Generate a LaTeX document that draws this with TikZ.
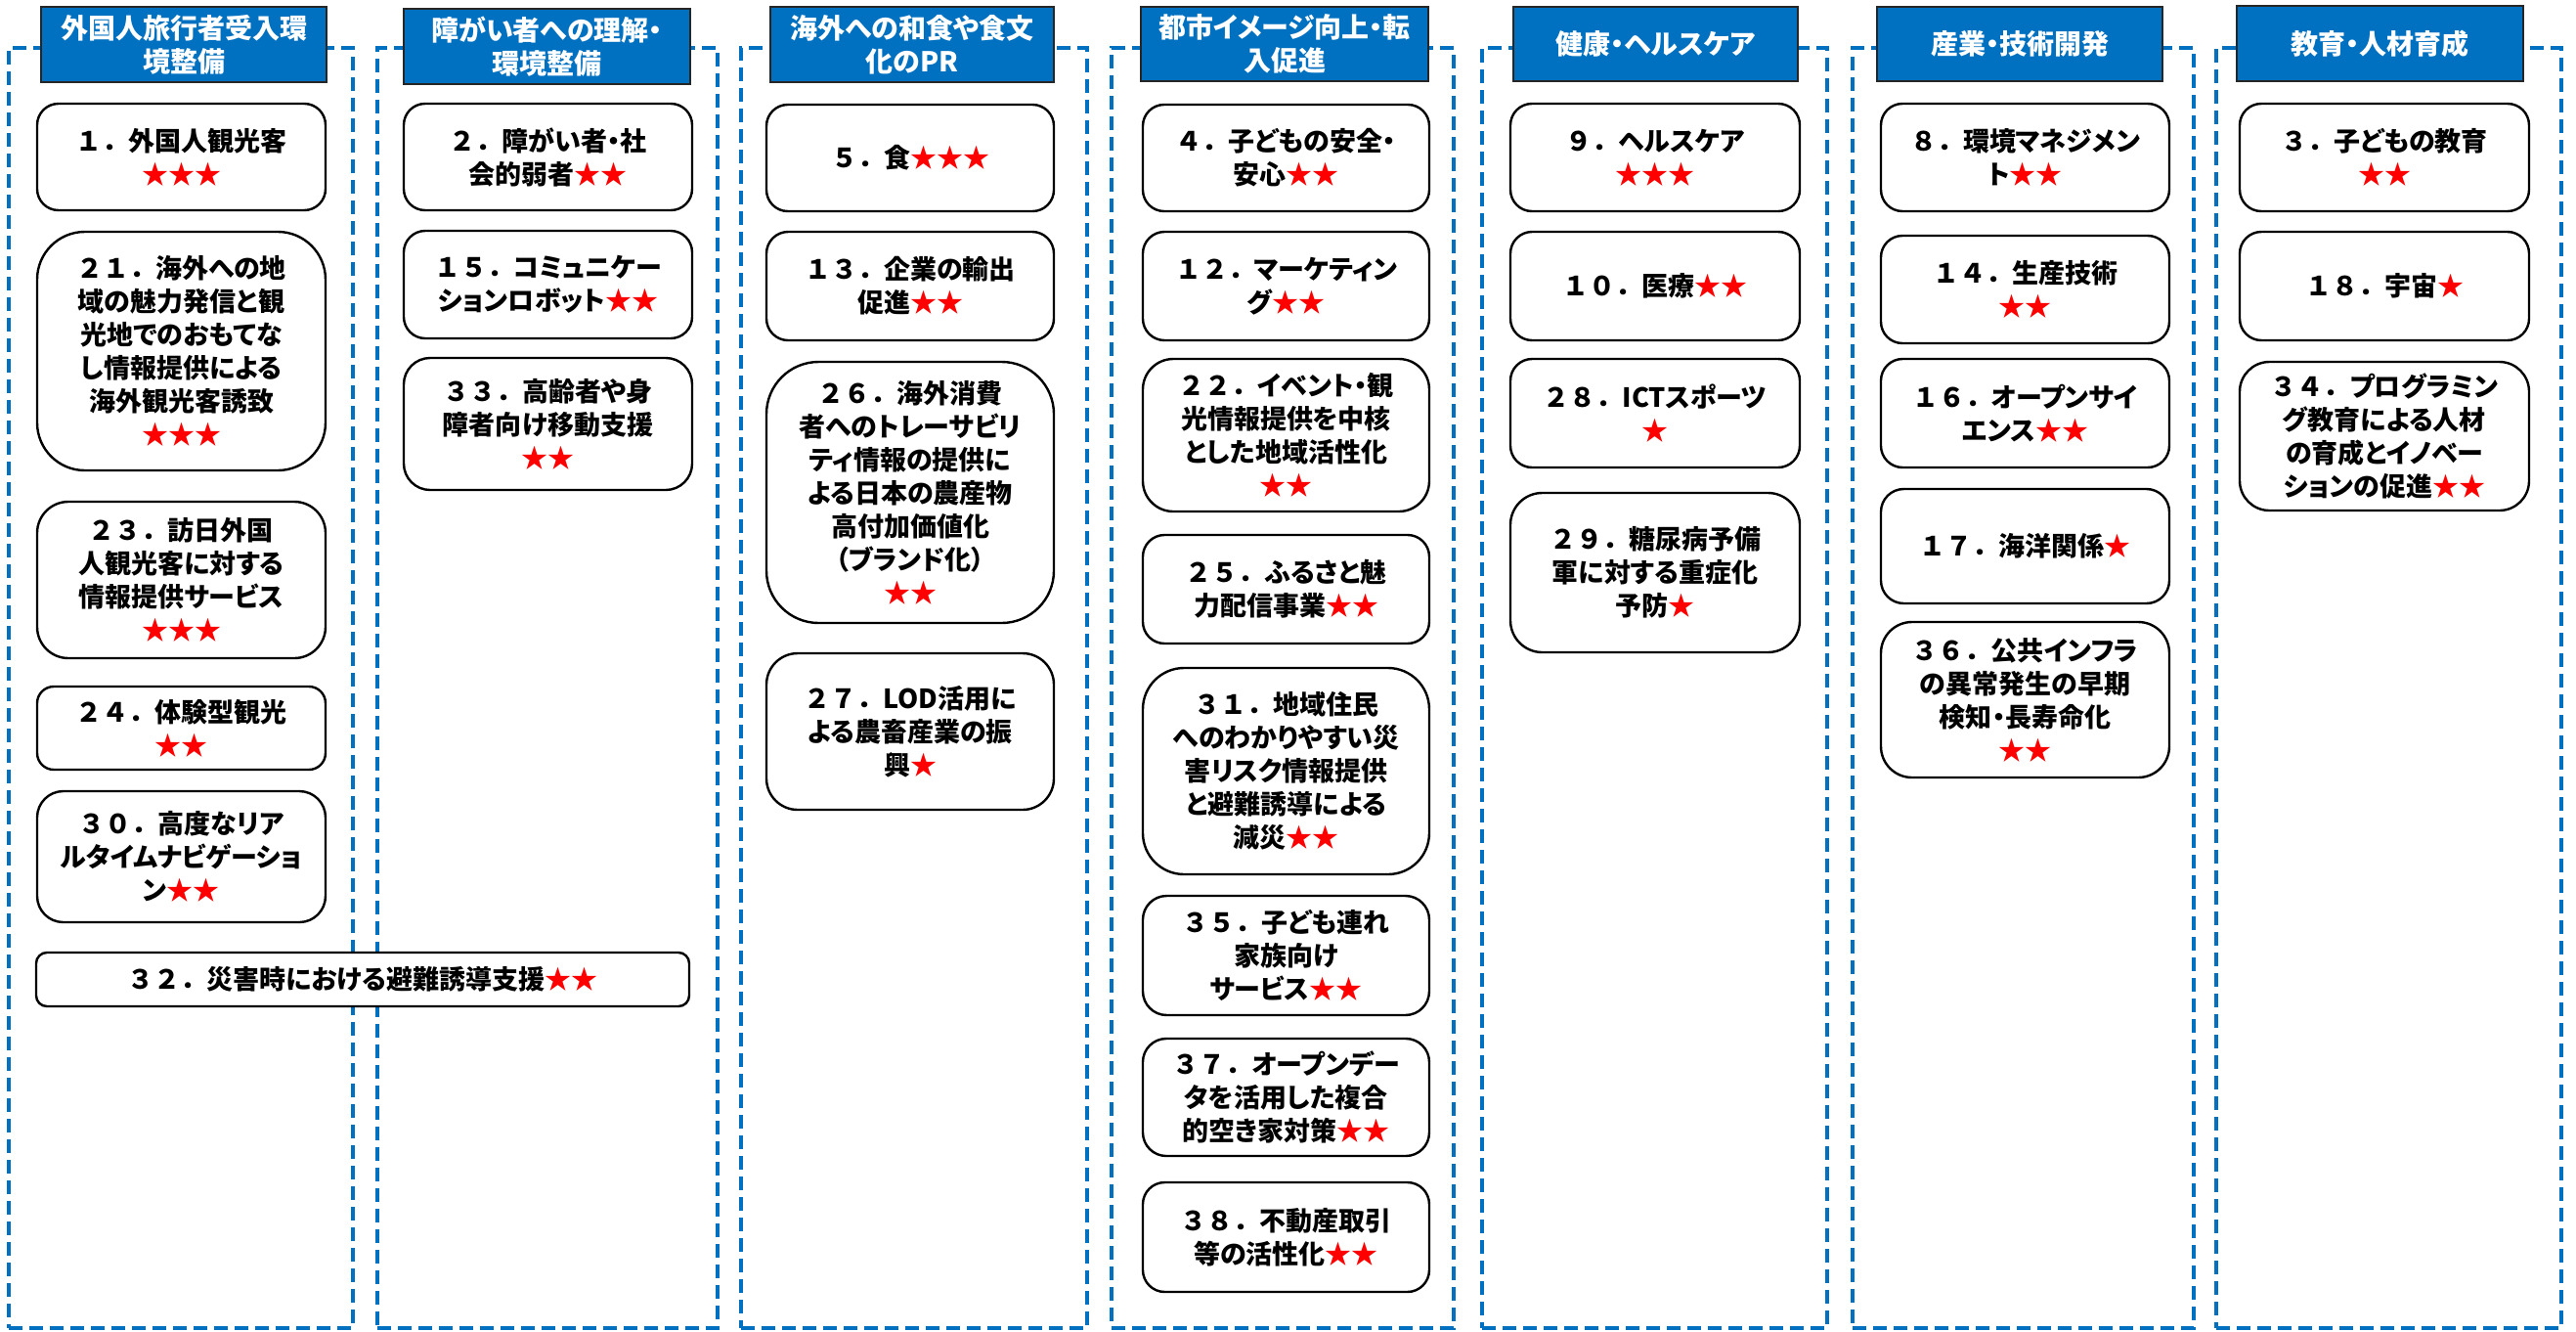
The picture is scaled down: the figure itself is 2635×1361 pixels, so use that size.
\documentclass[tikz,border=0pt]{standalone}
\usepackage{fontspec}
\setmainfont{Noto Sans CJK JP}[RawFeature=+palt]
\newfontfamily\plainjp{Noto Sans CJK JP}
\definecolor{hdrblue}{RGB}{0,112,192}
\definecolor{starred}{RGB}{255,0,0}
\newcommand{\RS}[1]{{\color{starred}#1}}
\newcommand{\NN}[1]{{\plainjp\bfseries #1}}
\tikzset{
  itembox/.style={draw=black, line width=1.2pt, fill=white, inner sep=0pt, align=center,
    font=\fontsize{13.5}{17}\selectfont\bfseries},
  hdrbox/.style={draw=black!85, line width=1pt, fill=hdrblue, text=white, inner sep=0pt, align=center,
    font=\fontsize{14}{17}\selectfont\bfseries},
  colframe/.style={draw=hdrblue, line width=2pt, dash pattern=on 7pt off 3.5pt, inner sep=0pt},
}
% name, x1, y1, x2, y2, text  (pixel coordinates)
\newcommand{\mkitem}[6]{%
  \pgfmathsetmacro{\bw}{(#4-#2)*0.5}%
  \pgfmathsetmacro{\bh}{(#5-#3)*0.5}%
  \pgfmathsetmacro{\br}{0.2*min(\bw,\bh)}%
  \node[itembox, minimum width=\bw pt, minimum height=\bh pt, rounded corners=\br pt]
    (#1) at ({(#2+#4)/2},{(#3+#5)/2}) {#6};}
\newcommand{\mkhdr}[6]{%
  \pgfmathsetmacro{\bw}{(#4-#2)*0.5}%
  \pgfmathsetmacro{\bh}{(#5-#3)*0.5}%
  \node[hdrbox, minimum width=\bw pt, minimum height=\bh pt]
    (#1) at ({(#2+#4)/2},{(#3+#5)/2}) {#6};}
\newcommand{\mkframe}[5]{%
  \pgfmathsetmacro{\bw}{(#4-#2)*0.5}%
  \pgfmathsetmacro{\bh}{(#5-#3)*0.5}%
  \node[colframe, minimum width=\bw pt, minimum height=\bh pt]
    (#1) at ({(#2+#4)/2},{(#3+#5)/2}) {};}
\begin{document}
\begin{tikzpicture}[x=0.5pt,y=-0.5pt]
\useasboundingbox (0,0) rectangle (2635,1361);
% column frames
\mkframe{f1}{9}{49}{361}{1358}
\mkframe{f2}{386}{49}{734}{1358}
\mkframe{f3}{758}{49}{1112}{1358}
\mkframe{f4}{1137}{49}{1487}{1358}
\mkframe{f5}{1516}{49}{1869}{1358}
\mkframe{f6}{1895}{49}{2244}{1358}
\mkframe{f7}{2267}{49}{2620}{1358}
% headers
\mkhdr{h1}{42}{7}{334}{84}{外国人旅行者受入環\\境整備}
\mkhdr{h2}{413}{9}{706}{86}{障がい者への理解・\\環境整備}
\mkhdr{h3}{788}{7}{1078}{84}{海外への和食や食文\\化のPR}
\mkhdr{h4}{1167}{7}{1461}{83}{都市イメージ向上・転\\入促進}
\mkhdr{h5}{1548}{7}{1839}{83}{健康・ヘルスケア}
\mkhdr{h6}{1920}{7}{2212}{83}{産業・技術開発}
\mkhdr{h7}{2288}{6}{2581}{83}{教育・人材育成}
% column 1
\mkitem{b1}{38}{106}{333}{215}{\NN{１．}外国人観光客\\\RS{★★★}}
\mkitem{b21}{38}{237}{333}{481}{\NN{２１．}海外への地\\域の魅力発信と観\\光地でのおもてな\\し情報提供による\\海外観光客誘致\\\RS{★★★}}
\mkitem{b23}{38}{513}{333}{673}{\NN{２３．}訪日外国\\人観光客に対する\\情報提供サービス\\\RS{★★★}}
\mkitem{b24}{38}{702}{333}{787}{\NN{２４．}体験型観光\\\RS{★★}}
\mkitem{b30}{38}{809}{333}{943}{\NN{３０．}高度なリア\\ルタイムナビゲーショ\\ン\RS{★★}}
\mkitem{b32}{37}{974}{705}{1029}{\NN{３２．}災害時における避難誘導支援\RS{★★}}
% column 2
\mkitem{b2}{413}{106}{708}{215}{\NN{２．}障がい者・社\\会的弱者\RS{★★}}
\mkitem{b15}{413}{236}{708}{346}{\NN{１５．}コミュニケー\\ションロボット\RS{★★}}
\mkitem{b33}{413}{366}{708}{501}{\NN{３３．}高齢者や身\\障者向け移動支援\\\RS{★★}}
% column 3
\mkitem{b5}{784}{107}{1078}{216}{\NN{５．}食\RS{★★★}}
\mkitem{b13}{784}{237}{1078}{348}{\NN{１３．}企業の輸出\\促進\RS{★★}}
\mkitem{b26}{784}{370}{1078}{637}{\NN{２６．}海外消費\\者へのトレーサビリ\\ティ情報の提供に\\よる日本の農産物\\高付加価値化\\（ブランド化）\\\RS{★★}}
\mkitem{b27}{784}{668}{1078}{828}{\NN{２７．}LOD活用に\\よる農畜産業の振\\興\RS{★}}
% column 4
\mkitem{b4}{1169}{107}{1462}{216}{\NN{４．}子どもの安全・\\安心\RS{★★}}
\mkitem{b12}{1169}{237}{1462}{348}{\NN{１２．}マーケティン\\グ\RS{★★}}
\mkitem{b22}{1169}{367}{1462}{523}{\NN{２２．}イベント・観\\光情報提供を中核\\とした地域活性化\\\RS{★★}}
\mkitem{b25}{1169}{547}{1462}{658}{\NN{２５．}ふるさと魅\\力配信事業\RS{★★}}
\mkitem{b31}{1169}{683}{1462}{894}{\NN{３１．}地域住民\\へのわかりやすい災\\害リスク情報提供\\と避難誘導による\\減災\RS{★★}}
\mkitem{b35}{1169}{916}{1462}{1038}{\NN{３５．}子ども連れ\\家族向け\\サービス\RS{★★}}
\mkitem{b37}{1169}{1062}{1462}{1182}{\NN{３７．}オープンデー\\タを活用した複合\\的空き家対策\RS{★★}}
\mkitem{b38}{1169}{1209}{1462}{1321}{\NN{３８．}不動産取引\\等の活性化\RS{★★}}
% column 5
\mkitem{b9}{1545}{106}{1841}{216}{\NN{９．}ヘルスケア\\\RS{★★★}}
\mkitem{b10}{1545}{237}{1841}{348}{\NN{１０．}医療\RS{★★}}
\mkitem{b28}{1545}{367}{1841}{478}{\NN{２８．}ICTスポーツ\\\RS{★}}
\mkitem{b29}{1545}{504}{1841}{667}{\NN{２９．}糖尿病予備\\軍に対する重症化\\予防\RS{★}}
% column 6
\mkitem{b8}{1924}{106}{2219}{216}{\NN{８．}環境マネジメン\\ト\RS{★★}}
\mkitem{b14}{1924}{241}{2219}{351}{\NN{１４．}生産技術\\\RS{★★}}
\mkitem{b16}{1924}{367}{2219}{478}{\NN{１６．}オープンサイ\\エンス\RS{★★}}
\mkitem{b17}{1924}{500}{2219}{617}{\NN{１７．}海洋関係\RS{★}}
\mkitem{b36}{1924}{636}{2219}{795}{\NN{３６．}公共インフラ\\の異常発生の早期\\検知・長寿命化\\\RS{★★}}
% column 7
\mkitem{b3}{2291}{106}{2587}{216}{\NN{３．}子どもの教育\\\RS{★★}}
\mkitem{b18}{2291}{237}{2587}{348}{\NN{１８．}宇宙\RS{★}}
\mkitem{b34}{2291}{370}{2587}{522}{\NN{３４．}プログラミン\\グ教育による人材\\の育成とイノベー\\ションの促進\RS{★★}}
\end{tikzpicture}
\end{document}
